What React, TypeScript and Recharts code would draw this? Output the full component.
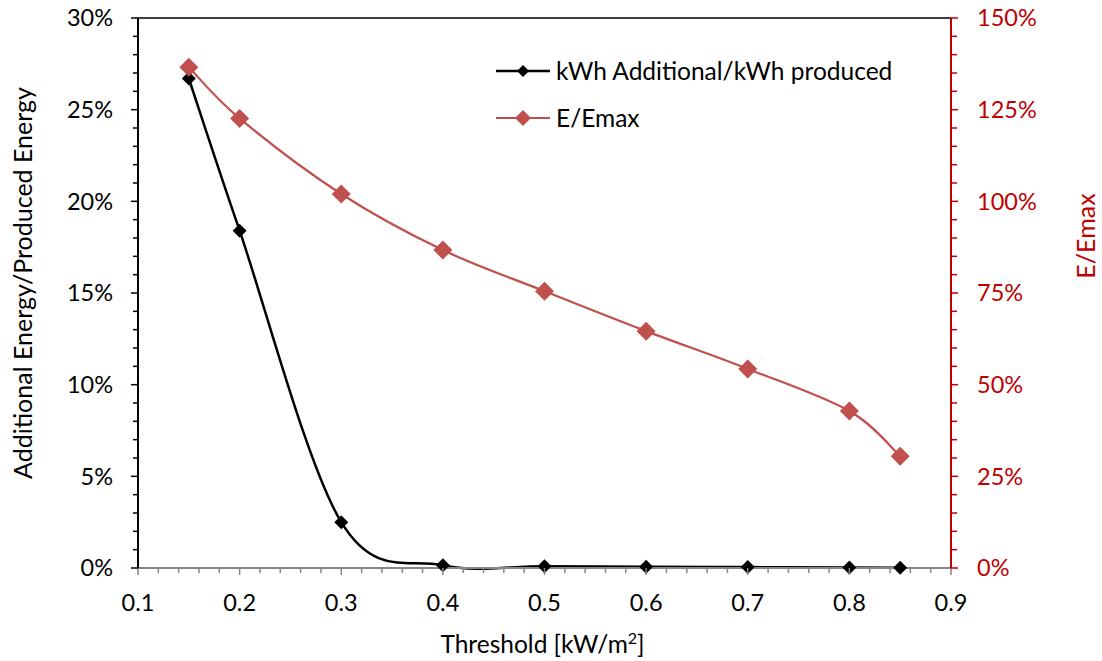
import React from "react"
import {
  LineChart,
  Line,
  XAxis,
  YAxis,
  Legend,
  ReferenceLine,
} from "recharts"

const thresholds = [0.15, 0.2, 0.3, 0.4, 0.5, 0.6, 0.7, 0.8, 0.85]
const additionalRatio = [26.7, 18.4, 2.5, 0.15, 0.1, 0.07, 0.05, 0.03, 0.02]
const energyRatio = [136.6, 122.6, 102, 86.7, 75.5, 64.6, 54.3, 42.8, 30.5]

const xMajorTicks = [0.1, 0.2, 0.3, 0.4, 0.5, 0.6, 0.7, 0.8, 0.9]
const leftMajorTicks = [0, 5, 10, 15, 20, 25, 30]
const rightMajorTicks = [0, 25, 50, 75, 100, 125, 150]

const SERIES_ADD = "kWh Additional/kWh produced"
const SERIES_E = "E/Emax"

const FONT = "Lato, 'Open Sans', sans-serif"
const AXIS_RED = "#C00000"
const SERIES_RED = "#C0504D"

// minor ticks: split each major step in `parts`
function withMinor(major: number[], parts: number): number[] {
  const out: number[] = []
  for (let i = 0; i < major.length - 1; i++) {
    const step = (major[i + 1] - major[i]) / parts
    for (let k = 0; k < parts; k++) out.push(+(major[i] + k * step).toFixed(4))
  }
  out.push(major[major.length - 1])
  return out
}

const isMajor = (v: number, major: number[]) =>
  major.some((m) => Math.abs(m - v) < 1e-6)

const data = thresholds.map((x, i) => ({
  x,
  add: additionalRatio[i],
  e: energyRatio[i],
}))

// Excel-like smoothed line (Catmull-Rom style bezier)
const smoothCurve = (context: any) => {
  let pts: number[][] = []
  return {
    areaStart() {},
    areaEnd() {},
    lineStart() {
      pts = []
    },
    point(x: number, y: number) {
      pts.push([+x, +y])
    },
    lineEnd() {
      const n = pts.length
      if (!n) return
      context.moveTo(pts[0][0], pts[0][1])
      const t = 1 / 6
      for (let i = 0; i < n - 1; i++) {
        const p0 = pts[Math.max(i - 1, 0)]
        const p1 = pts[i]
        const p2 = pts[i + 1]
        const p3 = pts[Math.min(i + 2, n - 1)]
        context.bezierCurveTo(
          p1[0] + (p2[0] - p0[0]) * t,
          p1[1] + (p2[1] - p0[1]) * t,
          p2[0] - (p3[0] - p1[0]) * t,
          p2[1] - (p3[1] - p1[1]) * t,
          p2[0],
          p2[1]
        )
      }
    },
  }
}

const Diamond = ({ cx, cy, r, fill }: any) => {
  if (cx == null || cy == null) return null
  return (
    <path
      d={`M${cx},${cy - r}L${cx + r},${cy}L${cx},${cy + r}L${cx - r},${cy}Z`}
      fill={fill}
    />
  )
}

const XTick = ({ x, y, payload }: any) => {
  const major = isMajor(payload.value, xMajorTicks)
  return (
    <g>
      <line x1={x} x2={x} y1={y} y2={y + (major ? 7 : 5)} stroke="#868686" strokeWidth={1.5} />
      {major && (
        <text x={x} y={y + 43} textAnchor="middle" fontSize={23.5} fontFamily={FONT} fill="#000">
          {payload.value.toFixed(1)}
        </text>
      )}
    </g>
  )
}

const LeftTick = ({ x, y, payload }: any) => {
  const major = isMajor(payload.value, leftMajorTicks)
  return (
    <g>
      <line x1={x - (major ? 7 : 5)} x2={x} y1={y} y2={y} stroke="#000" strokeWidth={1.5} />
      {major && (
        <text x={x - 25} y={y} dy="0.36em" textAnchor="end" fontSize={23.5} fontFamily={FONT} fill="#000">
          {payload.value}%
        </text>
      )}
    </g>
  )
}

const RightTick = ({ x, y, payload }: any) => {
  const major = isMajor(payload.value, rightMajorTicks)
  return (
    <g>
      <line x1={x} x2={x + (major ? 7 : 6)} y1={y} y2={y} stroke={AXIS_RED} strokeWidth={1.5} />
      {major && (
        <text x={x + 26} y={y} dy="0.36em" textAnchor="start" fontSize={23.5} fontFamily={FONT} fill={AXIS_RED}>
          {payload.value}%
        </text>
      )}
    </g>
  )
}

const XTitle = ({ viewBox }: any) => {
  const cx = viewBox.x + viewBox.width / 2 - 2
  return (
    <text x={cx} y={viewBox.y + 85} textAnchor="middle" fontSize={24.5} fontFamily={FONT} fill="#000">
      Threshold [kW/m
      <tspan baselineShift="super" fontSize={16}>2</tspan>
      ]
    </text>
  )
}

const LeftTitle = ({ viewBox }: any) => {
  const cx = viewBox.x + 22
  const cy = 283
  return (
    <text
      x={cx}
      y={cy}
      transform={`rotate(-90 ${cx} ${cy})`}
      textAnchor="middle"
      dominantBaseline="central"
      fontSize={25}
      fontFamily={FONT}
      fill="#000"
    >
      Additional Energy/Produced Energy
    </text>
  )
}

const RightTitle = ({ viewBox }: any) => {
  const cx = viewBox.x + 134
  const cy = 236
  return (
    <text
      x={cx}
      y={cy}
      transform={`rotate(-90 ${cx} ${cy})`}
      textAnchor="middle"
      dominantBaseline="central"
      fontSize={25}
      fontFamily={FONT}
      fill={AXIS_RED}
    >
      E/Emax
    </text>
  )
}

const legendItems = [
  { label: SERIES_ADD, color: "#000", marker: "#000", r: 6, width: 2.5 },
  { label: SERIES_E, color: SERIES_RED, marker: SERIES_RED, r: 8, width: 2 },
]

const LegendBox = () => (
  <div style={{ fontFamily: FONT, fontSize: 24.5, color: "#000" }}>
    {legendItems.map((it) => (
      <div key={it.label} style={{ display: "flex", alignItems: "center", height: 47 }}>
        <svg width={56} height={20} style={{ marginRight: 4 }}>
          <line x1={0} x2={54} y1={10} y2={10} stroke={it.color} strokeWidth={it.width} />
          <Diamond cx={27} cy={10} r={it.r} fill={it.marker} />
        </svg>
        <span style={{ whiteSpace: "nowrap" }}>{it.label}</span>
      </div>
    ))}
  </div>
)

export default function App() {
  return (
    <div style={{ position: "absolute", left: 0, top: 0, background: "#fff" }}>
      <LineChart
        width={1102}
        height={661}
        data={data}
        margin={{ top: 18, right: 0, bottom: 0, left: 0 }}
      >
        <XAxis
          dataKey="x"
          type="number"
          domain={[0.1, 0.9]}
          ticks={withMinor(xMajorTicks, 5)}
          interval={0}
          allowDataOverflow
          height={93}
          tickSize={0}
          tickMargin={0}
          tickLine={false}
          axisLine={{ stroke: "#868686", strokeWidth: 2 }}
          tick={<XTick />}
          label={<XTitle />}
        />
        <YAxis
          yAxisId="left"
          orientation="left"
          domain={[0, 30]}
          ticks={withMinor(leftMajorTicks, 5)}
          interval={0}
          width={138}
          tickSize={0}
          tickMargin={0}
          tickLine={false}
          axisLine={{ stroke: "#000", strokeWidth: 2 }}
          tick={<LeftTick />}
          label={<LeftTitle />}
        />
        <YAxis
          yAxisId="right"
          orientation="right"
          domain={[0, 150]}
          ticks={withMinor(rightMajorTicks, 5)}
          interval={0}
          width={151}
          tickSize={0}
          tickMargin={0}
          tickLine={false}
          axisLine={{ stroke: AXIS_RED, strokeWidth: 2 }}
          tick={<RightTick />}
          label={<RightTitle />}
        />
        <ReferenceLine yAxisId="left" y={30} stroke="#000" strokeWidth={1.5} />
        <Legend
          layout="vertical"
          align="center"
          verticalAlign="middle"
          content={<LegendBox />}
          wrapperStyle={{ position: "absolute", left: 496, top: 47, width: "auto" }}
        />
        <Line
          yAxisId="left"
          dataKey="add"
          name={SERIES_ADD}
          type={smoothCurve as any}
          stroke="#000"
          strokeWidth={2.5}
          dot={(p: any) => <Diamond key={p.index} cx={p.cx} cy={p.cy} r={7} fill="#000" />}
          activeDot={false}
          isAnimationActive={false}
        />
        <Line
          yAxisId="right"
          dataKey="e"
          name={SERIES_E}
          type={smoothCurve as any}
          stroke={SERIES_RED}
          strokeWidth={2.2}
          dot={(p: any) => <Diamond key={p.index} cx={p.cx} cy={p.cy} r={9.5} fill={SERIES_RED} />}
          activeDot={false}
          isAnimationActive={false}
        />
      </LineChart>
    </div>
  )
}
